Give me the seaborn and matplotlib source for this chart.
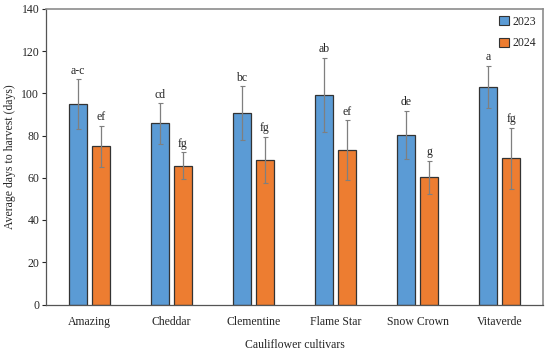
import pandas as pd
import seaborn as sns
import matplotlib.pyplot as plt
from matplotlib.patches import Patch

# Data
cultivars = ["Amazing", "Cheddar", "Clementine", "Flame Star", "Snow Crown", "Vitaverde"]
days_2023 = [94.8, 85.7, 90.6, 99.2, 80.3, 103.0]
days_2024 = [74.9, 65.6, 68.4, 73.0, 60.2, 69.3]
err_2023 = [11.8, 9.5, 12.8, 17.7, 11.4, 9.9]
err_2024 = [9.8, 6.4, 10.9, 14.2, 7.9, 14.4]
letters_2023 = ["a-c", "cd", "bc", "ab", "de", "a"]
letters_2024 = ["ef", "fg", "fg", "ef", "g", "fg"]
years = ["2023", "2024"]
colors = ["#5B9BD5", "#ED7D31"]

df = pd.DataFrame({
    "cultivar": cultivars * 2,
    "year": [years[0]] * len(cultivars) + [years[1]] * len(cultivars),
    "days": days_2023 + days_2024,
})

sns.set_style("white")
plt.rcParams["font.family"] = ["Liberation Serif", "DejaVu Serif"]

fig, ax = plt.subplots(figsize=(5.5, 3.5), dpi=100)
fig.subplots_adjust(left=0.084, right=0.987, bottom=0.13, top=0.975)

sns.barplot(data=df, x="cultivar", y="days", hue="year", palette=colors,
            saturation=1, width=0.56, gap=0.21, edgecolor="#333333", linewidth=0.9,
            errorbar=None, legend=False, ax=ax)

# error bars and letters on top of the seaborn bars
errs = err_2023 + err_2024
labels = letters_2023 + letters_2024
for patch, e, lab in zip(ax.patches, errs, labels):
    xc = patch.get_x() + patch.get_width() / 2
    h = patch.get_height()
    ax.errorbar(xc, h, yerr=e, fmt="none", ecolor="#7f7f7f", elinewidth=0.9,
                capsize=1.8, capthick=0.8)
    ax.text(xc, h + e + 1.2, lab, ha="center", va="bottom", fontsize=8.5)

ax.set_ylim(0, 140)
ax.set_yticks(range(0, 141, 20))
ax.set_xlabel("Cauliflower cultivars", fontsize=8.5, labelpad=8)
ax.set_ylabel("Average days to harvest (days)", fontsize=8.5)
ax.tick_params(axis="y", labelsize=8.5, length=3, width=0.8, direction="out", left=True, pad=2)
ax.tick_params(axis="x", labelsize=8.5, length=0, pad=8)

for side in ["top", "right"]:
    ax.spines[side].set_color("#8c8c8c")
    ax.spines[side].set_linewidth(1.2)
for side in ["left", "bottom"]:
    ax.spines[side].set_color("#555555")
    ax.spines[side].set_linewidth(0.9)

handles = [Patch(facecolor=c, edgecolor="#333333", linewidth=0.8) for c in colors]
ax.legend(handles, years, loc="upper right", frameon=False, fontsize=8.5,
          handlelength=0.8, handleheight=0.8, handletextpad=0.3,
          labelspacing=0.8, borderaxespad=0.2)

plt.savefig("out.png")
plt.close()
